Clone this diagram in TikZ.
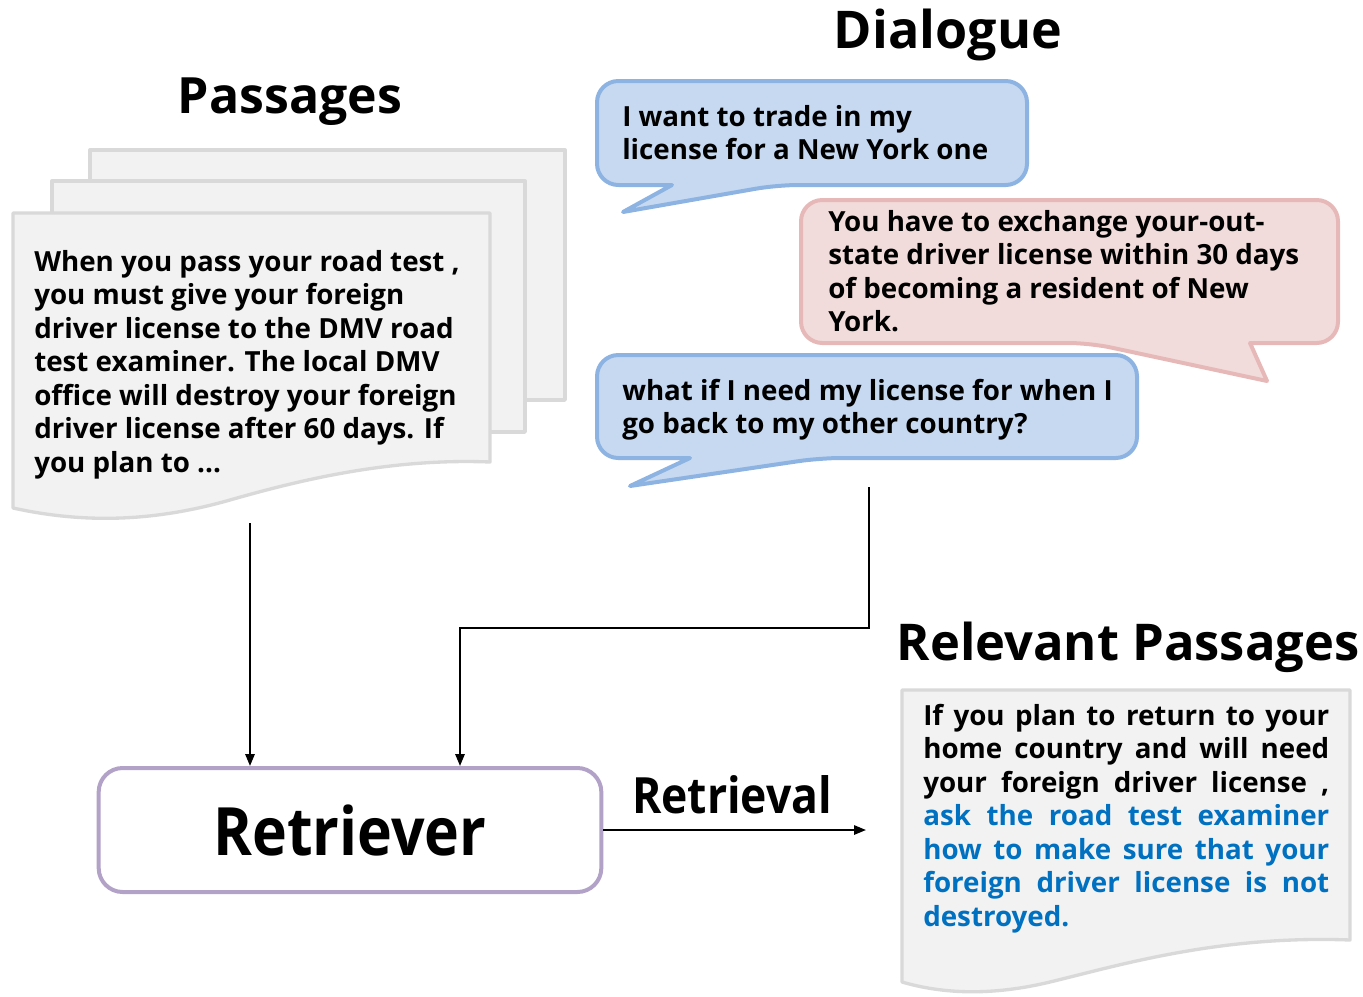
\documentclass[tikz,border=0pt]{standalone}
\usepackage{fontspec}
\setmainfont{Open Sans}
\usetikzlibrary{arrows.meta}
\definecolor{bubblue}{HTML}{C6D9F1}
\definecolor{bubblueline}{HTML}{8DB3E2}
\definecolor{bubpink}{HTML}{F2DCDB}
\definecolor{bubpinkline}{HTML}{E6B9B8}
\definecolor{retline}{HTML}{B3A2C7}
\definecolor{paperfill}{HTML}{F2F2F2}
\definecolor{paperline}{HTML}{D9D9D9}
\definecolor{hlblue}{HTML}{0070C0}
\newcommand{\jline}[1]{\leavevmode\hbox to 304.5pt{\spaceskip=0.28em plus 1fil\relax #1}}
\tikzset{
  paper/.style={fill=paperfill, draw=paperline, line width=2.5pt, line join=round},
  bblue/.style={fill=bubblue, draw=bubblueline, line width=3pt, line join=round},
  bpink/.style={fill=bubpink, draw=bubpinkline, line width=3pt, line join=round},
  bodytext/.style={inner sep=0pt, anchor=north west, align=left, font=\bfseries\fontsize{20.8}{25.1}\selectfont},
  title/.style={inner sep=0pt, font=\bfseries\fontsize{37.5}{40}\selectfont},
  arr/.style={line width=1.5pt, -{Triangle[length=9pt,width=7pt]}},
  retbox/.style={draw=retline, fill=white, line width=3pt, rounded corners=18pt, minimum width=377pt, minimum height=93pt, inner sep=0pt, font=\bfseries\fontsize{50}{55}\selectfont}
}
\begin{document}
\begin{tikzpicture}[x=0.75pt,y=-0.75pt]
\useasboundingbox (0,0) rectangle (1363,996);
% titles
\node[title] (tpass) at (290,102) {Passages};
\node[title, font=\bfseries\fontsize{39}{42}\selectfont] (tdial) at (948,35) {Dialogue};
\node[title, font=\bfseries\fontsize{38}{42}\selectfont] (trel) at (1128,647) {Relevant Passages};
% passages stack
\draw[paper] (90,150) rectangle (565,400);
\draw[paper] (52,181) rectangle (525,432);
\draw[paper] (13,213) -- (490,213) -- (490,462)
  .. controls (390,458) and (300,480) .. (230,500)
  .. controls (160,520) and (90,525) .. (13,508) -- cycle;
\node[bodytext] (ptext) at (34,250) {When you pass your road test ,\\you must give your foreign\\driver license to the DMV road\\test examiner. The local DMV\\office will destroy your foreign\\driver license after 60 days. If\\you plan to ...};
% dialogue bubbles
\draw[bblue] (623,212) -- (672,185) [rounded corners=16] -- (597,185) -- (597,81) -- (1027,81) -- (1027,185) -- (777,185) [sharp corners] -- cycle;
\node[bodytext] (d1) at (622,105) {I want to trade in my\\license for a New York one};
\draw[bpink] (1267,381) -- (1250,343) [rounded corners=16] -- (1338,343) -- (1338,200) -- (801,200) -- (801,343) -- (1090,343) [sharp corners] -- cycle;
\node[bodytext] (d2) at (828,210) {You have to exchange your-out-\\state driver license within 30 days\\of becoming a resident of New\\York.};
\draw[bblue] (630,486) -- (690,458) [rounded corners=16] -- (597,458) -- (597,355) -- (1137,355) -- (1137,458) -- (820,458) [sharp corners] -- cycle;
\node[bodytext] (d3) at (622,379) {what if I need my license for when I\\go back to my other country?};
% relevant passage
\draw[paper] (902,690) -- (1350,690) -- (1350,940)
  .. controls (1220,935) and (1120,965) .. (1050,982)
  .. controls (1000,994) and (950,996) .. (902,982) -- cycle;
\node[bodytext, text width=304.5pt] (rtext) at (923,704) {%
\jline{If you plan to return to your}\\
\jline{home country and will need}\\
\jline{your foreign driver license ,}\\
\color{hlblue}\jline{ask the road test examiner}\\
\jline{how to make sure that your}\\
\jline{foreign driver license is not}\\
destroyed.};
% retriever
\node[retbox] (ret) at (350,830) {\scalebox{0.885}[1]{Retriever}};
\node[title] (lret) at (732,795) {\scalebox{0.89}[1]{Retrieval}};
% connectors
\coordinate (pbot) at (250,523);
\coordinate (dbot) at (869,487);
\coordinate (bend) at (460,628);
\coordinate (rp) at (866,830);
\draw[arr] (pbot) -- (pbot |- ret.north);
\draw[arr] (dbot) |- (bend) -- (bend |- ret.north);
\draw[arr] (ret.east) -- (rp);
\end{tikzpicture}
\end{document}
